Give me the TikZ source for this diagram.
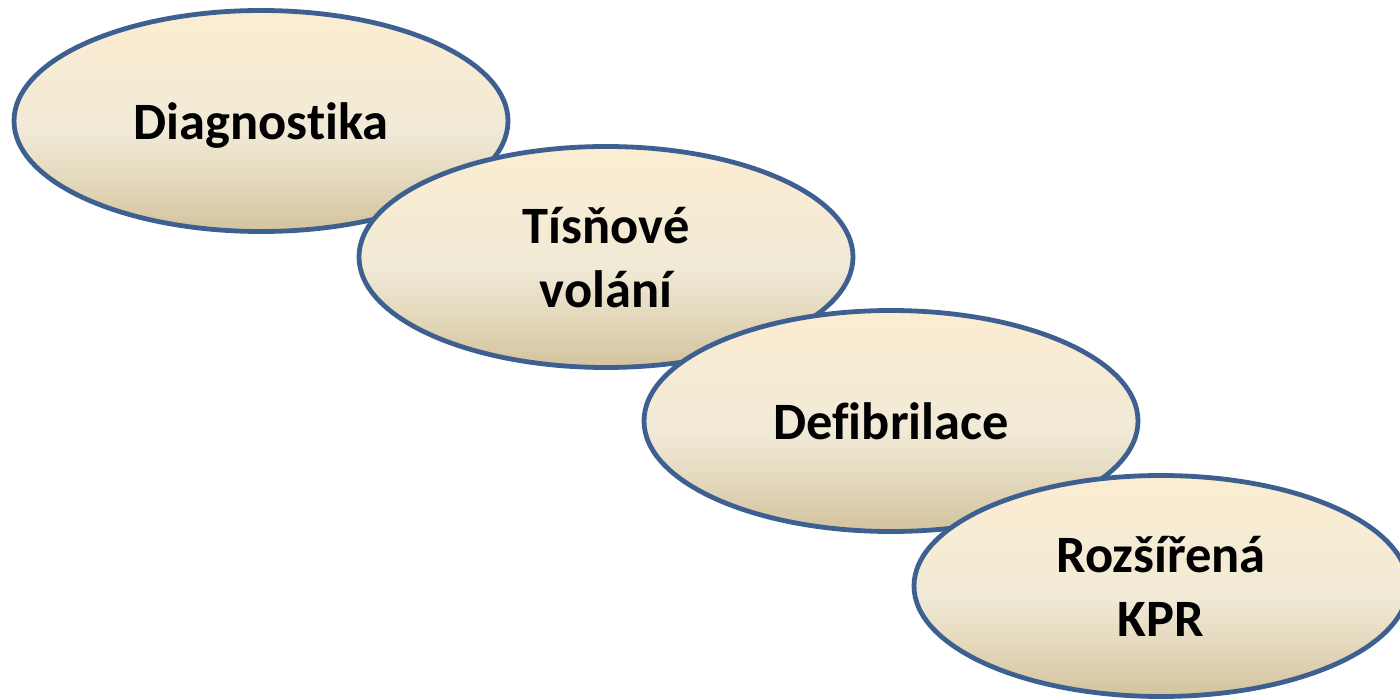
\documentclass[tikz,border=0pt]{standalone}
\usepackage{fontspec}
\setmainfont{Carlito}[Ligatures=NoCommon]
\usetikzlibrary{shapes.geometric}
\definecolor{creamtop}{HTML}{FCEDD1}
\definecolor{creammid}{HTML}{F1EAD7}
\definecolor{creamlow}{HTML}{E4D9BD}
\definecolor{creambot}{HTML}{D3C39E}
\definecolor{ovalline}{HTML}{3D6090}
\pgfdeclareverticalshading{creamshade}{100bp}{color(0bp)=(creambot); color(25bp)=(creambot); color(37bp)=(creamlow); color(48bp)=(creammid); color(75bp)=(creamtop); color(100bp)=(creamtop)}
\tikzset{
  stageoval/.style={ellipse, draw=ovalline, line width=4.8pt, shading=creamshade,
    minimum width=494pt, minimum height=221pt, inner sep=0pt, align=center,
    text depth=0pt,
    font=\fontsize{52.5}{64}\selectfont\bfseries, text=black}
}
\begin{document}
\begin{tikzpicture}[x=1pt,y=-1pt]
\useasboundingbox (0,0) rectangle (1400,700);
\node[stageoval] (diag) at (261,121) {Diagnostika};
\node[stageoval] (tis) at (606,257) {Tísňové\\volání};
\node[stageoval] (defi) at (891,421) {Defibrilace};
\node[stageoval] (kpr) at (1161,586) {Rozšířená\\KPR};
\end{tikzpicture}
\end{document}
